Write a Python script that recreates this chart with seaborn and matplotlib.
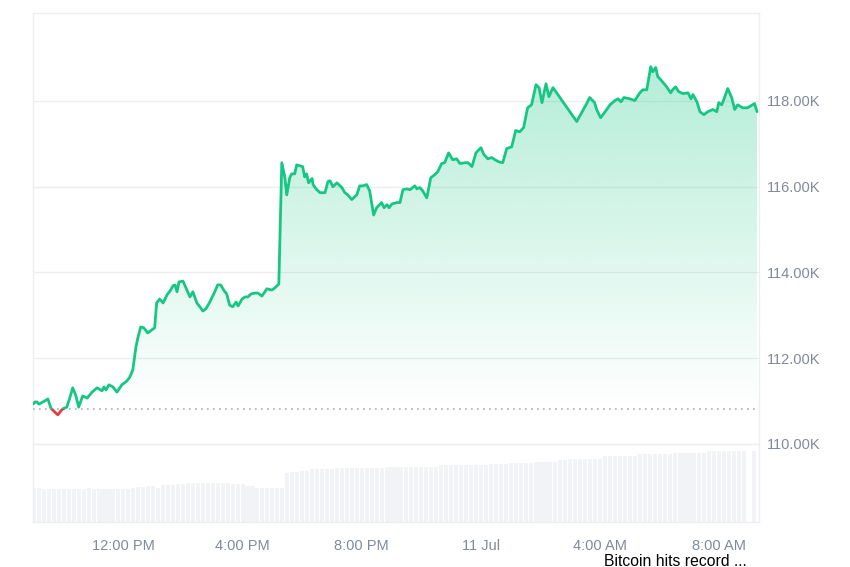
import matplotlib
matplotlib.use("Agg")
import matplotlib.pyplot as plt
import matplotlib.dates as mdates
import matplotlib.transforms as mtransforms
from matplotlib.patches import Rectangle
import seaborn as sns
import pandas as pd
import numpy as np

# BTC price (minutes after 10 Jul 09:00)
price_minutes = [
    -2, 2, 6, 10, 18, 28, 34, 38, 48, 54, 58, 66, 72, 78, 84, 90, 98, 107, 117, 127,
    137, 141, 145, 151, 159, 167, 177, 187, 193, 199, 205, 209, 215, 221, 229, 237, 243, 247, 253, 260,
    268, 274, 280, 284, 288, 292, 300, 306, 314, 320, 328, 334, 340, 346, 354, 364, 370, 376, 382, 388,
    394, 400, 407, 411, 419, 425, 431, 437, 445, 451, 459, 469, 479, 485, 493, 499, 505, 509, 515, 519,
    525, 529, 535, 541, 545, 549, 553, 560, 562, 568, 576, 586, 592, 596, 602, 610, 620, 626, 632, 640,
    650, 656, 662, 670, 676, 684, 690, 700, 705, 711, 715, 721, 731, 737, 743, 751, 757, 767, 771, 777,
    783, 791, 799, 807, 813, 821, 827, 835, 843, 851, 858, 868, 874, 882, 890, 900, 906, 914, 922, 928,
    936, 944, 952, 962, 970, 978, 986, 994, 1002, 1011, 1017, 1023, 1031, 1037, 1045, 1055, 1065, 1079, 1093, 1103,
    1113, 1119, 1129, 1133, 1141, 1149, 1160, 1170, 1176, 1182, 1188, 1200, 1210, 1220, 1226, 1234, 1242, 1246, 1252, 1256,
    1264, 1274, 1282, 1286, 1292, 1298, 1307, 1317, 1323, 1327, 1335, 1341, 1349, 1357, 1367, 1375, 1379, 1385, 1389, 1397,
    1405, 1411, 1417, 1427, 1437, 1451, 1456,
]
price_usd = [
    110930, 110980, 110980, 110930, 110980, 111050, 110840, 110790, 110680, 110770,
    110820, 110860, 111070, 111310, 111140, 110860, 111120, 111070, 111210, 111310,
    111240, 111330, 111260, 111380, 111330, 111210, 111380, 111470, 111560, 111730,
    112240, 112470, 112730, 112710, 112590, 112660, 112710, 113290, 113380, 113290,
    113480, 113570, 113690, 113710, 113550, 113780, 113800, 113640, 113430, 113550,
    113290, 113200, 113100, 113150, 113310, 113550, 113710, 113710, 113590, 113500,
    113240, 113200, 113310, 113220, 113380, 113430, 113430, 113500, 113520, 113520,
    113450, 113620, 113590, 113640, 113730, 116560, 116230, 115810, 116210, 116300,
    116300, 116510, 116490, 116470, 116230, 116300, 116090, 116190, 116050, 115950,
    115860, 115860, 116120, 116140, 116000, 116090, 115980, 115860, 115810, 115700,
    115810, 116020, 116020, 116050, 115900, 115340, 115510, 115630, 115510, 115580,
    115510, 115600, 115630, 115630, 115930, 115950, 115930, 116020, 115950, 115980,
    115900, 115740, 116210, 116280, 116350, 116540, 116560, 116790, 116630, 116650,
    116540, 116560, 116560, 116470, 116790, 116910, 116750, 116650, 116680, 116630,
    116580, 116560, 116890, 116930, 117310, 117280, 117380, 117840, 117910, 118380,
    118310, 117960, 118400, 118100, 118310, 118150, 117980, 117750, 117520, 117730,
    117940, 118080, 117960, 117800, 117610, 117730, 117910, 118010, 118050, 117980,
    118080, 118050, 118010, 118190, 118260, 118260, 118800, 118680, 118780, 118570,
    118470, 118330, 118190, 118260, 118330, 118220, 118170, 118190, 118050, 118150,
    117980, 117750, 117680, 117750, 117800, 117750, 117960, 117910, 118030, 118290,
    118080, 117800, 117910, 117840, 117840, 117940, 117750,
]

# volume bars every 10 minutes (billions)
volume_b = [
    34, 34, 33, 33, 33, 33, 33, 33, 33, 33, 33, 34, 33, 33, 33, 33, 33, 33, 33, 33,
    34, 35, 35, 36, 36, 34, 37, 37, 37, 38, 38, 39, 39, 39, 39, 39, 39, 39, 39, 39,
    38, 38, 38, 36, 36, 34, 34, 34, 34, 34, 34, 49, 50, 50, 51, 51, 53, 53, 53, 53,
    53, 54, 54, 54, 54, 54, 54, 54, 54, 54, 54, 55, 55, 55, 55, 55, 55, 55, 55, 55,
    55, 55, 57, 57, 57, 57, 57, 57, 57, 57, 57, 57, 58, 58, 58, 58, 59, 59, 59, 59,
    59, 60, 60, 60, 60, 60, 62, 62, 63, 63, 63, 63, 63, 63, 63, 66, 66, 66, 66, 66,
    66, 66, 68, 68, 68, 68, 68, 68, 68, 69, 69, 69, 69, 69, 69, 69, 71, 71, 71, 71,
    71, 71, 71, 71, 0, 71,
]
volume_minutes = list(range(0, 10 * len(volume_b), 10))

open_price = 110820
price_ticks = [110000, 112000, 114000, 116000, 118000]
price_tick_labels = ["110.00K", "112.00K", "114.00K", "116.00K", "118.00K"]
time_ticks = ["2025-07-10 12:00", "2025-07-10 16:00", "2025-07-10 20:00",
              "2025-07-11 00:00", "2025-07-11 04:00", "2025-07-11 08:00"]
time_tick_labels = ["12:00 PM", "4:00 PM", "8:00 PM", "11 Jul", "4:00 AM", "8:00 AM"]

green = "#16c784"
red = "#ea3943"
label_grey = "#808a9d"
frame_grey = "#eceff2"

start = pd.Timestamp("2025-07-10 09:00")
df = pd.DataFrame({"time": start + pd.to_timedelta(price_minutes, unit="min"),
                   "price": price_usd})
vol = pd.DataFrame({"time": start + pd.to_timedelta(volume_minutes, unit="min"),
                    "volume": volume_b})

sns.set_style("white")
plt.rcParams["font.family"] = ["Liberation Sans", "DejaVu Sans"]

fig = plt.figure(figsize=(8.5, 5.67), dpi=100)
ax_vol = fig.add_axes([33 / 850, 45 / 567, 726 / 850, 509 / 567])
ax = ax_vol.twinx()

# volume
ax_vol.bar(vol["time"], vol["volume"], width=8.2 / 1440, color="#f1f3f6", linewidth=0)
ax_vol.set_ylim(0, 509)
ax_vol.set_yticks([])

# gradient fill between price and open
poly = ax.fill_between(df["time"], df["price"], open_price, facecolor="none", edgecolor="none")
grad = np.zeros((256, 1, 4))
grad[:, 0, :3] = matplotlib.colors.to_rgb(green)
grad[:, 0, 3] = np.linspace(0, 0.32, 256)
x0 = mdates.date2num(df["time"].iloc[0])
x1 = mdates.date2num(df["time"].iloc[-1])
im = ax.imshow(grad, extent=[x0, x1, open_price, max(price_usd)], origin="lower",
               aspect="auto", zorder=1)
im.set_clip_path(poly.get_paths()[0], ax.transData)

# open price reference
ax.axhline(open_price, color="#a6b0c3", lw=1.2, linestyle=(0, (1, 2.6)), zorder=2)

# price line, green above open and red below
blend = mtransforms.blended_transform_factory(ax.transAxes, ax.transData)
sns.lineplot(data=df, x="time", y="price", ax=ax, color=green, linewidth=2.0,
             solid_joinstyle="round", zorder=3)
ax.lines[-1].set_clip_path(Rectangle((0, open_price), 1, 1e6, transform=blend))
sns.lineplot(data=df, x="time", y="price", ax=ax, color=red, linewidth=2.0,
             solid_joinstyle="round", zorder=3)
ax.lines[-1].set_clip_path(Rectangle((0, open_price - 1e6), 1, 1e6, transform=blend))

ax.set_ylim(108181, 120051)
ax_vol.set_xlim(start + pd.Timedelta(minutes=-2), start + pd.Timedelta(minutes=1460))
ax.set_yticks(price_ticks)
ax.set_yticklabels(price_tick_labels)
ax.yaxis.grid(True, color=frame_grey, lw=1)
ax.set_axisbelow(True)
ax_vol.set_xticks(pd.to_datetime(time_ticks))
ax_vol.set_xticklabels(time_tick_labels)
ax.set_xlabel("")
ax.set_ylabel("")
ax_vol.set_xlabel("")

ax.tick_params(axis="y", length=0, pad=5.8, labelsize=10.5, labelcolor=label_grey)
ax_vol.tick_params(axis="x", length=0, pad=12, labelsize=10.5, labelcolor=label_grey)

for s in ax.spines.values():
    s.set_visible(False)
for s in ax_vol.spines.values():
    s.set_color(frame_grey)
    s.set_linewidth(1)

fig.text(675 / 850, 6 / 567, "Bitcoin hits record ...", ha="center", va="center",
         fontsize=11.3, color="#000000")

fig.savefig("out.png", dpi=100)
